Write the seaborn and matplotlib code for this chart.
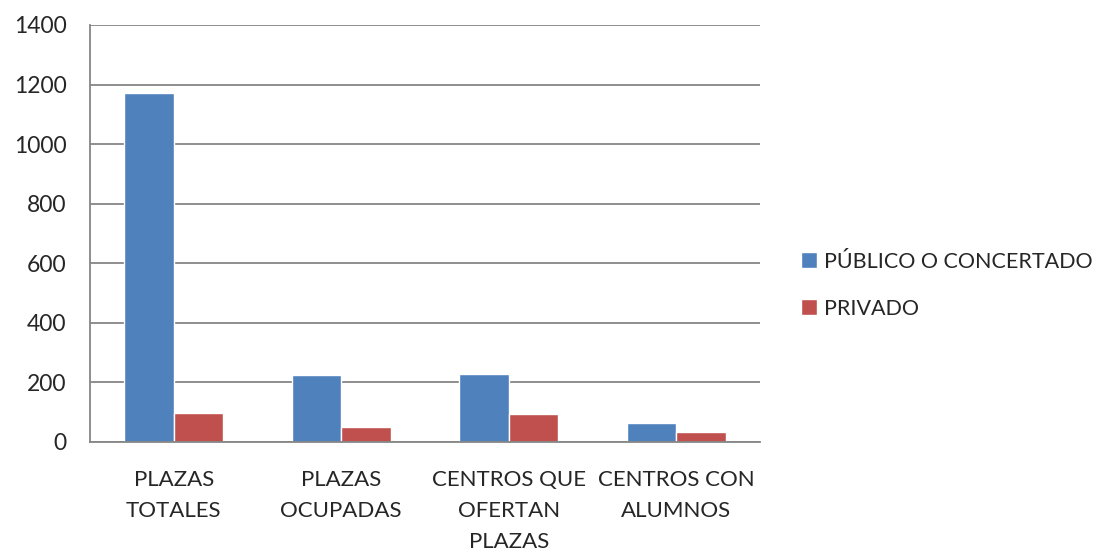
import pandas as pd
import numpy as np
import matplotlib
matplotlib.use("Agg")
import matplotlib.pyplot as plt
import seaborn as sns

# data
categorias = ["PLAZAS\nTOTALES", "PLAZAS\nOCUPADAS", "CENTROS QUE\nOFERTAN\nPLAZAS", "CENTROS CON\nALUMNOS"]
publico = [1170, 225, 228, 65]
privado = [98, 49, 93, 34]
series = ["PÚBLICO O CONCERTADO", "PRIVADO"]
colores = ["#4F81BD", "#C0504D"]

df = pd.DataFrame({
    "categoria": categorias * 2,
    "valor": publico + privado,
    "serie": [series[0]] * 4 + [series[1]] * 4,
})

sns.set_style("white")
plt.rcParams['font.family'] = ['Lato', 'DejaVu Sans']

fig = plt.figure(figsize=(11.07, 5.54), dpi=100)
ax = fig.add_axes([0.0813, 0.2022, 0.6052, 0.7527])

sns.barplot(data=df, x="categoria", y="valor", hue="serie", palette=colores,
            width=0.59, saturation=1, ax=ax, legend=True)

ax.set_ylim(0, 1400)
ax.set_xlim(-0.5, 3.5)
ax.set_yticks(np.arange(0, 1401, 200))
ax.yaxis.grid(True, color="#868686", linewidth=1.3)
ax.set_axisbelow(True)
ax.set_xlabel("")
ax.set_ylabel("")
for s in ["top", "right"]:
    ax.spines[s].set_visible(False)
for s in ["left", "bottom"]:
    ax.spines[s].set_color("#868686")
    ax.spines[s].set_linewidth(1.3)
ax.tick_params(axis="y", length=6, color="#868686", width=1.3, labelsize=16.5, pad=11)
ax.tick_params(axis="x", length=0, labelsize=16, pad=20)
for lbl in ax.get_xticklabels():
    lbl.set_linespacing(1.7)

handles, labels = ax.get_legend_handles_labels()
ax.get_legend().remove()
fig.legend(handles, labels, loc="center left", bbox_to_anchor=(0.706, 0.485),
           frameon=False, fontsize=15.5, handlelength=0.75, handleheight=0.75,
           handletextpad=0.3, labelspacing=1.25)

fig.savefig("out.png", dpi=100)
